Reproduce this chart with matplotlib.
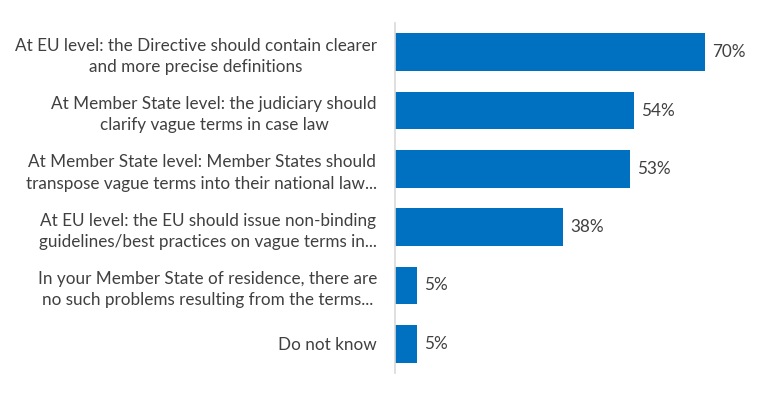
import matplotlib
matplotlib.use("Agg")
import matplotlib.pyplot as plt

# 数据
categories = [
    "At EU level: the Directive should contain clearer\nand more precise definitions",
    "At Member State level: the judiciary should\nclarify vague terms in case law",
    "At Member State level: Member States should\ntranspose vague terms into their national law...",
    "At EU level: the EU should issue non-binding\nguidelines/best practices on vague terms in...",
    "In your Member State of residence, there are\nno such problems resulting from the terms...",
    "Do not know",
]
values = [70, 54, 53, 38, 5, 5]

BAR = "#0070C0"
TEXT = "#404040"

plt.rcParams["font.family"] = ["Lato", "DejaVu Sans"]

fig = plt.figure(figsize=(7.78, 3.97), dpi=100)
ax = fig.add_axes([395 / 778, 24 / 397, 383 / 778, 350 / 397])

y = list(range(len(values)))
ax.barh(y, values, height=0.65, color=BAR)
ax.set_ylim(len(values) - 0.5, -0.5)
ax.set_xlim(0, 86.5)

for yi, v in zip(y, values):
    ax.text(v + 1.6, yi, f"{v}%", va="center", ha="left", fontsize=12.3, color=TEXT)

ax.set_yticks(y)
ax.set_yticklabels(categories, fontsize=12.3, color=TEXT, linespacing=1.4,
                   multialignment="center")
ax.tick_params(axis="y", length=0, pad=13)
ax.set_xticks([])
for s in ["top", "right", "bottom"]:
    ax.spines[s].set_visible(False)
ax.spines["left"].set_color("#D9D9D9")
ax.spines["left"].set_linewidth(1.2)

fig.savefig("out.png", dpi=100)
